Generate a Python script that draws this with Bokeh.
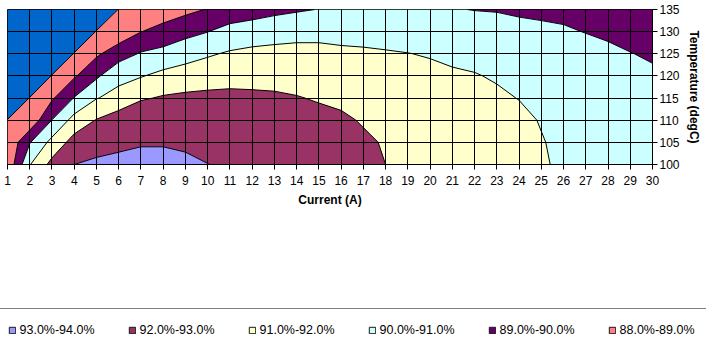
import numpy as np
from bokeh.plotting import figure
from bokeh.layouts import column
from bokeh.models import FixedTicker, Legend, LegendItem
from bokeh.embed import file_html
from bokeh.resources import INLINE

# Grid of the efficiency map: load current (A) by case temperature (degC)
current = list(range(1, 31))
temperature = [100, 105, 110, 115, 120, 125, 130, 135]

# operating points outside the converter's range (shown in the lowest band)
NA = 85.0

# Efficiency (%) for each temperature row, current 1 A ... 30 A
eff_100 = [88.2, 90.95, 92.3, 93.0, 93.14, 93.25, 93.2, 93.2, 93.19, 93.01, 92.9, 92.85, 92.8, 92.75, 92.7,
           92.6, 92.4, 92.0, 91.85, 91.75, 91.65, 91.55, 91.45, 91.35, 91.1, 90.85, 90.75, 90.65, 90.55, 90.45]
eff_105 = [88.15, 89.94, 91.3, 92.39, 92.7, 92.8, 92.95, 92.95, 92.85, 92.8, 92.75, 92.72, 92.68, 92.6, 92.55,
           92.4, 92.2, 91.9, 91.78, 91.68, 91.58, 91.48, 91.38, 91.28, 91.045, 90.82, 90.72, 90.62, 90.52, 90.42]
eff_110 = [88.1, 88.25, 90.02, 91.37, 92.05, 92.55, 92.85, 92.6, 92.55, 92.55, 92.55, 92.52, 92.48, 92.4, 92.35,
           92.2, 91.9, 91.75, 91.65, 91.55, 91.45, 91.35, 91.27, 91.18, 90.955, 90.78, 90.68, 90.57, 90.47, 90.37]
eff_115 = [NA, 88.1, 88.87, 90.05, 90.96, 91.3, 91.89, 92.1, 92.2, 92.26, 92.3, 92.25, 92.18, 92.06, 91.9,
           91.75, 91.7, 91.6, 91.5, 91.42, 91.3, 91.2, 91.12, 90.98, 90.85, 90.7, 90.6, 90.5, 90.4, 90.3]
eff_120 = [NA, NA, 88.15, 88.88, 89.84, 90.75, 90.94, 91.27, 91.43, 91.53, 91.59, 91.59, 91.6, 91.55, 91.5,
           91.5, 91.45, 91.4, 91.3, 91.25, 91.12, 91.04, 90.93, 90.82, 90.7, 90.55, 90.45, 90.35, 90.25, 90.12]
eff_125 = [NA, NA, NA, 88.15, 88.84, 89.55, 90.09, 90.3, 90.63, 90.9, 91.1, 91.25, 91.32, 91.35, 91.3,
           91.15, 91.15, 91.1, 91.02, 90.93, 90.82, 90.79, 90.7, 90.6, 90.5, 90.35, 90.25, 90.15, 90.02, 89.91]
eff_130 = [NA, NA, NA, NA, 88.15, 88.35, 88.98, 89.35, 89.7, 89.98, 90.39, 90.45, 90.55, 90.65, 90.7,
           90.75, 90.65, 90.54, 90.55, 90.5, 90.42, 90.38, 90.35, 90.25, 90.15, 90.08, 89.98, 89.88, 89.77, 89.65]
eff_135 = [NA, NA, NA, NA, NA, 88.1, 88.2, 88.45, 88.75, 89.05, 89.31, 89.6, 89.79, 89.91, 90.02,
           90.2, 90.25, 90.2, 90.15, 90.12, 90.04, 89.98, 89.95, 89.87, 89.85, 89.83, 89.7, 89.6, 89.5, 89.4]

# Contour bands (%) and their fills, lowest band first
levels = [84, 88, 89, 90, 91, 92, 93, 94]
band_colors = ["#0066CC", "#FF8080", "#660066", "#CCFFFF", "#FFFFCC", "#993366", "#9999FF"]

# Legend entries, highest band first
legend_labels = ["93.0%-94.0%", "92.0%-93.0%", "91.0%-92.0%", "90.0%-91.0%", "89.0%-90.0%", "88.0%-89.0%"]
legend_colors = ["#9999FF", "#993366", "#FFFFCC", "#CCFFFF", "#660066", "#FF8080"]

FONT = "Liberation Sans"

z = np.array([eff_100, eff_105, eff_110, eff_115, eff_120, eff_125, eff_130, eff_135])

p = figure(width=706, height=300, x_range=(current[0], current[-1]),
           y_range=(temperature[0], temperature[-1]), y_axis_location="right",
           output_backend="svg", toolbar_location=None,
           min_border_left=7, min_border_right=54, min_border_top=9, min_border_bottom=136)
p.background_fill_color = "white"
p.border_fill_color = "white"
p.outline_line_color = "black"
p.outline_line_width = 1

p.contour(current, temperature, z, levels, fill_color=band_colors,
          line_color="black", line_width=1)

p.xaxis.ticker = FixedTicker(ticks=current)
p.yaxis.ticker = FixedTicker(ticks=temperature)

for g in (p.xgrid, p.ygrid):
    g.level = "overlay"
    g.grid_line_color = "black"
    g.grid_line_width = 1
    g.grid_line_alpha = 1.0

for ax in (p.xaxis, p.yaxis):
    ax.axis_line_color = "black"
    ax.major_tick_line_color = "black"
    ax.major_tick_out = 5
    ax.major_tick_in = 0
    ax.minor_tick_line_color = None
    ax.major_label_text_font = FONT
    ax.major_label_text_font_size = "12px"
    ax.major_label_text_color = "black"
    ax.axis_label_text_font = FONT
    ax.axis_label_text_font_size = "12px"
    ax.axis_label_text_font_style = "bold"
    ax.axis_label_text_color = "black"

p.xaxis.axis_label = "Current (A)"
p.xaxis.major_label_standoff = 6
p.xaxis.axis_label_standoff = 5
p.yaxis.axis_label = "Temperature (degC)"
p.yaxis.major_label_standoff = 2
p.yaxis.axis_label_standoff = 4

# Legend strip beneath the chart: a wide boxed legend whose top edge crosses the page
leg = figure(width=706, height=49, x_range=(0, 706), y_range=(0, 49),
             x_axis_location=None, y_axis_location=None,
             output_backend="svg", toolbar_location=None, min_border=0)
leg.frame_align = False
leg.outline_line_color = None
leg.grid.visible = False

items = []
for label, color in zip(legend_labels, legend_colors):
    # swatch source kept outside the visible strip; only its legend entry shows
    r = leg.rect(x=[-100], y=[-100], width=1, height=1, fill_color=color,
                 line_color="#1a1a1a", line_width=1)
    items.append(LegendItem(label=label, renderers=[r]))

legend = Legend(items=items, orientation="horizontal", location=(-4.5, -3),
                glyph_width=8, glyph_height=8, label_standoff=4, label_width=91, spacing=17,
                padding=11, margin=0, label_height=20,
                border_line_color="black", border_line_width=1,
                background_fill_color="white", background_fill_alpha=1.0,
                label_text_font=FONT, label_text_font_size="12.5px", label_text_color="black")
leg.add_layout(legend, "center")

layout = column(p, leg, spacing=0)
open("out.html", "w").write(file_html(layout, INLINE))
